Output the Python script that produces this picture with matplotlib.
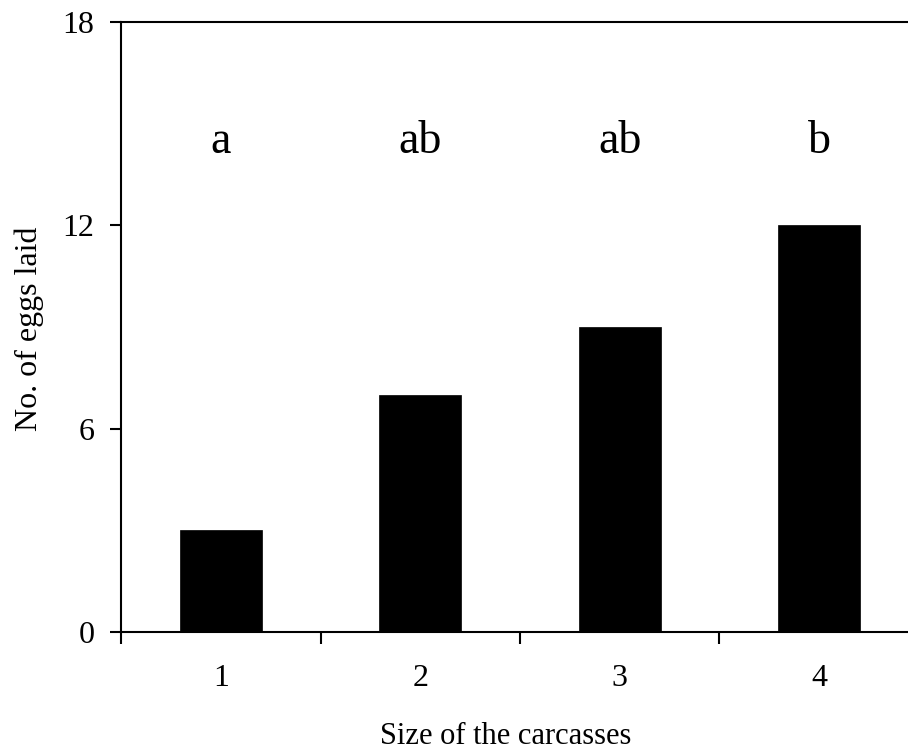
import matplotlib
matplotlib.use("Agg")
import matplotlib.pyplot as plt
from matplotlib.ticker import FixedLocator

categories = ["1", "2", "3", "4"]
eggs = [3.0, 7.0, 9.0, 12.0]
letters = ["a", "ab", "ab", "b"]
y_ticks = [0, 6, 12, 18]

plt.rcParams['font.family'] = ['Liberation Serif', 'DejaVu Serif']

W, H = 908, 756
fig = plt.figure(figsize=(W / 100, H / 100), dpi=100)
left, right, top, bottom = 121, 919, 22, 632
ax = fig.add_axes([left / W, 1 - bottom / H, (right - left) / W, (bottom - top) / H])

x = list(range(1, len(categories) + 1))
ax.bar(x, eggs, width=0.41, color='black', edgecolor='black', linewidth=0.5)

for xi, lab in zip(x, letters):
    ax.text(xi, 14.12, lab, ha='center', va='baseline', fontsize=33)

ax.set_xlim(0.5, 4.5)
ax.set_ylim(0, 18)
ax.set_yticks(y_ticks)
ax.set_yticklabels([str(t) for t in y_ticks], fontsize=23)
ax.set_xticks(x)
ax.set_xticklabels(categories, fontsize=23)
ax.xaxis.set_minor_locator(FixedLocator([0.5, 1.5, 2.5, 3.5, 4.5]))
ax.tick_params(axis='x', which='major', length=0, pad=23)
ax.tick_params(axis='x', which='minor', length=8.5, width=1.5, direction='out')
ax.tick_params(axis='y', which='major', length=8, width=1.5, direction='out', pad=11)

for s in ['left', 'bottom', 'top']:
    ax.spines[s].set_linewidth(1.5)
ax.spines['right'].set_visible(False)

ax.set_xlabel("Size of the carcasses", fontsize=22)
ax.xaxis.set_label_coords(506 / W, 1 - 722 / H, transform=fig.transFigure)
ax.set_ylabel("No. of eggs laid", fontsize=23)
ax.yaxis.set_label_coords(44 / W, 1 - 328.5 / H, transform=fig.transFigure)

fig.savefig("out.png", dpi=100)
